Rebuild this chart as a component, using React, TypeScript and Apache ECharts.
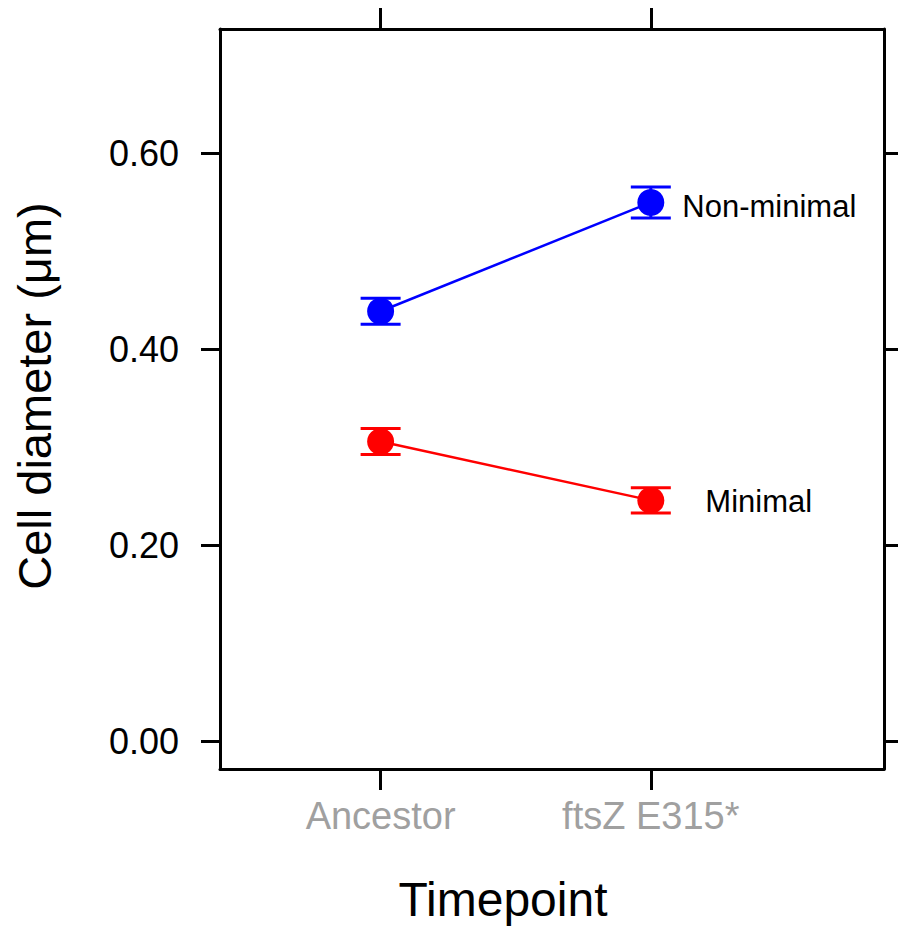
import React, { useEffect, useRef } from "react";
import * as echarts from "echarts";

const timepoints = ["Ancestor", "ftsZ E315*"];
const xPositions = [1, 2];
const nonMinimalMean = [0.439, 0.55];
const nonMinimalErr = [0.0133, 0.0158];
const minimalMean = [0.306, 0.246];
const minimalErr = [0.0133, 0.013];
const yTicks = [0, 0.2, 0.4, 0.6];
const seriesNames = ["Non-minimal", "Minimal"];

const FONT = "'Liberation Sans', Arial, sans-serif";

export default function App() {
  const ref = useRef<HTMLDivElement>(null);
  useEffect(() => {
    if (!ref.current) return;
    const chart = echarts.init(ref.current, null, { renderer: "svg" });

    const groups = [
      { name: seriesNames[0], color: "#0000ff", mean: nonMinimalMean, err: nonMinimalErr, labelDist: 18, labelOffset: [0, 4] },
      { name: seriesNames[1], color: "#ff0000", mean: minimalMean, err: minimalErr, labelDist: 41, labelOffset: [0, 1] },
    ];

    const series: any[] = [];
    groups.forEach((g) => {
      const pts = xPositions.map((x, i) => [x, g.mean[i]]);
      series.push({
        type: "line",
        name: g.name + " line",
        data: pts,
        xAxisIndex: 0,
        yAxisIndex: 0,
        symbol: "none",
        lineStyle: { color: g.color, width: 2.5 },
        z: 2,
      });
      series.push({
        type: "custom",
        name: g.name + " error",
        xAxisIndex: 0,
        yAxisIndex: 0,
        data: xPositions.map((x, i) => [x, g.mean[i] - g.err[i], g.mean[i] + g.err[i]]),
        renderItem: (params: any, api: any) => {
          const x = api.value(0);
          const lo = api.coord([x, api.value(1)]);
          const hi = api.coord([x, api.value(2)]);
          const hw = 20;
          const style = { stroke: g.color, lineWidth: 3 };
          return {
            type: "group",
            children: [
              { type: "line", shape: { x1: lo[0], y1: lo[1], x2: hi[0], y2: hi[1] }, style },
              { type: "line", shape: { x1: lo[0] - hw, y1: lo[1], x2: lo[0] + hw, y2: lo[1] }, style },
              { type: "line", shape: { x1: hi[0] - hw, y1: hi[1], x2: hi[0] + hw, y2: hi[1] }, style },
            ],
          };
        },
        z: 3,
      });
      series.push({
        type: "scatter",
        name: g.name,
        xAxisIndex: 0,
        yAxisIndex: 0,
        symbol: "circle",
        symbolSize: 27,
        itemStyle: { color: g.color, opacity: 1 },
        data: pts.map((p, i) =>
          i === pts.length - 1
            ? {
                value: p,
                label: {
                  show: true,
                  formatter: g.name,
                  position: "right",
                  distance: g.labelDist,
                  offset: g.labelOffset,
                  color: "#000",
                  fontSize: 31,
                  fontFamily: FONT,
                },
              }
            : { value: p }
        ),
        z: 4,
      });
    });

    const axisLineStyle = { color: "#000", width: 3 };
    const xMin = 0.4056;
    const xMax = 2.863;
    const yMin = -0.0281;
    const yMax = 0.727;

    chart.setOption({
      animation: false,
      backgroundColor: "#fff",
      grid: { left: 220, right: 14, top: 29, bottom: 165 },
      xAxis: [
        {
          type: "value",
          position: "bottom",
          min: xMin,
          max: xMax,
          axisLine: { show: true, onZero: false, lineStyle: axisLineStyle },
          axisTick: { show: true, customValues: xPositions, length: 21, lineStyle: axisLineStyle },
          axisLabel: {
            show: true,
            customValues: xPositions,
            formatter: (v: number) => timepoints[Math.round(v) - 1] ?? "",
            color: "#a0a0a0",
            fontSize: 38,
            fontFamily: FONT,
            margin: 28,
          },
          splitLine: { show: false },
        },
        {
          type: "value",
          position: "top",
          min: xMin,
          max: xMax,
          axisLine: { show: true, onZero: false, lineStyle: axisLineStyle },
          axisTick: { show: true, customValues: xPositions, length: 21, lineStyle: axisLineStyle },
          axisLabel: { show: false },
          splitLine: { show: false },
        },
      ],
      yAxis: [
        {
          type: "value",
          position: "left",
          min: yMin,
          max: yMax,
          axisLine: { show: true, onZero: false, lineStyle: axisLineStyle },
          axisTick: { show: true, customValues: yTicks, length: 19, lineStyle: axisLineStyle },
          axisLabel: {
            show: true,
            customValues: yTicks,
            formatter: (v: number) => v.toFixed(2),
            color: "#000",
            fontSize: 36,
            fontFamily: FONT,
            margin: 41,
          },
          splitLine: { show: false },
        },
        {
          type: "value",
          position: "right",
          min: yMin,
          max: yMax,
          axisLine: { show: true, onZero: false, lineStyle: axisLineStyle },
          axisTick: { show: true, customValues: yTicks, length: 19, lineStyle: axisLineStyle },
          axisLabel: { show: false },
          splitLine: { show: false },
        },
      ],
      graphic: [
        {
          type: "text",
          x: 503,
          y: 899,
          style: {
            text: "Timepoint",
            fontSize: 48,
            fontFamily: FONT,
            fill: "#000",
            textAlign: "center",
            textVerticalAlign: "middle",
          },
        },
        {
          type: "text",
          x: 34,
          y: 396,
          rotation: Math.PI / 2,
          style: {
            text: "Cell diameter (\u03bcm)",
            fontSize: 47,
            fontFamily: FONT,
            fill: "#000",
            textAlign: "center",
            textVerticalAlign: "middle",
          },
        },
      ],
      series,
    });

    return () => chart.dispose();
  }, []);

  return (
    <div
      ref={ref}
      style={{ position: "fixed", left: 0, top: 0, width: 898, height: 934 }}
    />
  );
}
